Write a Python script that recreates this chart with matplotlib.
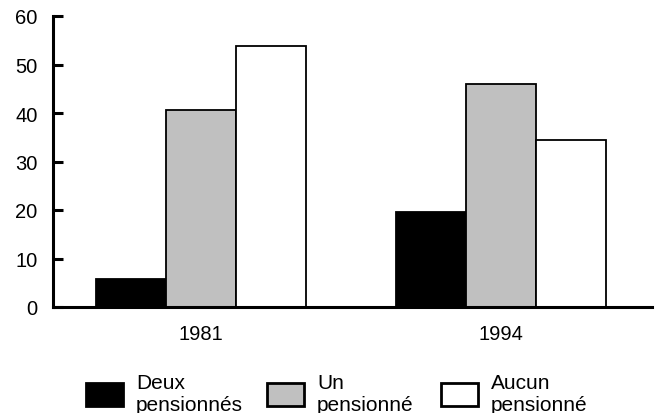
import matplotlib
matplotlib.use("Agg")
import matplotlib.pyplot as plt
import numpy as np

plt.rcParams['font.family'] = ['Liberation Sans', 'DejaVu Sans']

years = ["1981", "1994"]
series_labels = ["Deux\npensionnés", "Un\npensionné", "Aucun\npensionné"]
deux = [5.7, 19.5]
un = [40.7, 46.0]
aucun = [53.9, 34.4]
colors = ["#000000", "#C0C0C0", "#FFFFFF"]
yticks = [0, 10, 20, 30, 40, 50, 60]

W, H = 657, 414
fig = plt.figure(figsize=(W / 100, H / 100), dpi=100)
ax = fig.add_axes([53 / W, 1 - 308 / H, (652 - 53) / W, (308 - 17) / H])

x = np.arange(len(years))
bw = 0.233
handles = []
for i, (vals, col, lab) in enumerate(zip([deux, un, aucun], colors, series_labels)):
    b = ax.bar(x + (i - 1) * bw, vals, bw, color=col, edgecolor="black",
               linewidth=1.3, label=lab, zorder=2)
    handles.append(b)

ax.set_xlim(-0.493, 1.503)
ax.set_ylim(0, 60)
ax.set_yticks(yticks)
ax.set_xticks(x)
ax.set_xticklabels(years)
for s in ["top", "right"]:
    ax.spines[s].set_visible(False)
for s in ["left", "bottom"]:
    ax.spines[s].set_linewidth(2.2)
ax.tick_params(axis="y", direction="in", length=7, width=2.2, pad=11, labelsize=14.5)
ax.tick_params(axis="x", length=0, pad=12, labelsize=14.5)

legend_x = [86, 267, 441]
for h, lab, lx in zip(handles, series_labels, legend_x):
    leg = fig.legend(handles=[h], labels=[lab], loc="center left",
                     bbox_to_anchor=(lx / W, 1 - 395 / H), frameon=False,
                     fontsize=15, handlelength=1.78, handleheight=1.32,
                     handletextpad=0.62, borderpad=0, borderaxespad=0)
    for p in leg.get_patches():
        p.set_linewidth(2.0)

fig.savefig("out.png", dpi=100)
